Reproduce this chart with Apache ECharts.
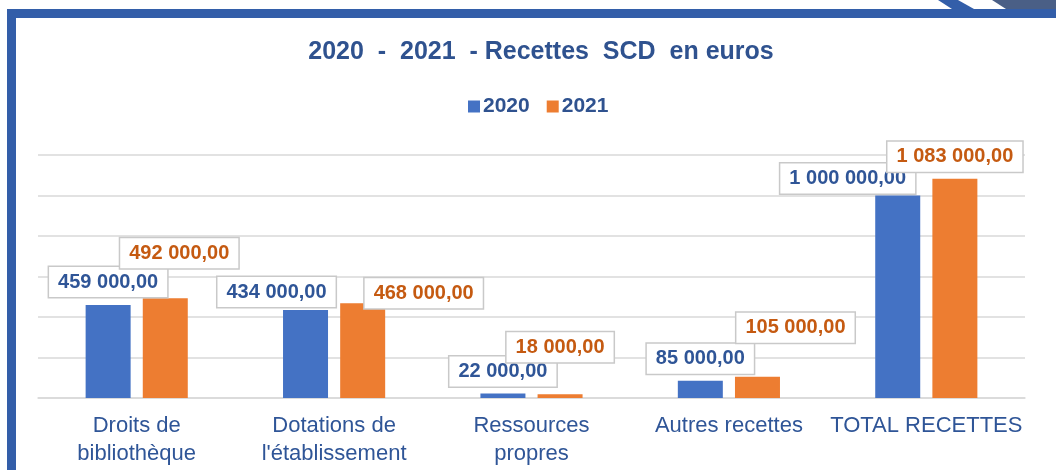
<!DOCTYPE html>
<html>
<head>
  <meta charset="UTF-8">
  <title>Recettes SCD</title>
  <script src="https://cdn.jsdelivr.net/npm/echarts@6/dist/echarts.min.js"></script>
  <style>
    html, body { margin: 0; padding: 0; background: #ffffff; }
    #chart { width: 1056px; height: 470px; }
  </style>
</head>
<body>
<div id="chart"></div>
<script>
  // donnees
  var categories = ['Droits de\nbibliothèque', 'Dotations de\nl\'établissement', 'Ressources\npropres', 'Autres recettes', 'TOTAL RECETTES'];
  var seriesNames = ['2020', '2021'];
  var values2020 = [459000, 434000, 22000, 85000, 1000000];
  var values2021 = [492000, 468000, 18000, 105000, 1083000];

  // deplacement des etiquettes (comme dans le fichier excel) [dx, hauteur au-dessus de la barre]
  var shift2020 = [[0, 8], [-29, 3], [0, 7], [0, 7], [-50, 2]];
  var shift2021 = [[14, 30], [61, -5], [0, 32], [38, 34], [0, 7]];

  var bleu = '#4472c4', orange = '#ed7d31';
  var texteBleu = '#2f5597', texteOrange = '#c55a11';

  function fmt(v) {
    var s = String(v).replace(/\B(?=(\d{3})+(?!\d))/g, ' ');
    return s + ',00';
  }

  function buildData(vals, shifts) {
    return vals.map(function (v, i) {
      return { value: v, label: { offset: [shifts[i][0], -shifts[i][1]] } };
    });
  }

  function labelStyle(col) {
    return {
      show: true,
      position: 'top',
      distance: 0,
      color: col,
      fontFamily: 'Arial, "Liberation Sans", sans-serif',
      fontSize: 20,
      fontWeight: 'bold',
      backgroundColor: '#ffffff',
      borderColor: '#c9c9c9',
      borderWidth: 1.5,
      padding: [5, 9, 5, 9],
      formatter: function (p) { return fmt(p.value); }
    };
  }

  var myChart = echarts.init(document.getElementById('chart'));

  var option = {
    backgroundColor: '#ffffff',
    animation: false,
    title: {
      text: '2020  -  2021  - Recettes  SCD  en euros',
      left: 536,
      textAlign: 'center',
      top: 35,
      textStyle: {
        color: '#2f528f',
        fontFamily: 'Arial, "Liberation Sans", sans-serif',
        fontSize: 25,
        fontWeight: 'bold'
      }
    },
    legend: {
      data: seriesNames,
      left: 463,
      top: 91,
      itemWidth: 12,
      itemHeight: 12,
      itemGap: 17,
      icon: 'rect',
      textStyle: {
        color: '#2f528f',
        fontFamily: 'Arial, "Liberation Sans", sans-serif',
        fontSize: 21,
        fontWeight: 'bold',
        padding: [0, 0, 0, -2]
      }
    },
    grid: { left: 38, right: 31, top: 155, bottom: 72, containLabel: false },
    xAxis: {
      type: 'category',
      data: categories,
      axisLine: { lineStyle: { color: '#d9d9d9', width: 1.5 } },
      axisTick: { show: false },
      axisLabel: {
        interval: 0,
        margin: 14,
        color: '#2f5597',
        fontFamily: 'Arial, "Liberation Sans", sans-serif',
        fontSize: 22,
        lineHeight: 28
      }
    },
    yAxis: {
      type: 'value',
      min: 0,
      max: 1200000,
      interval: 200000,
      axisLabel: { show: false },
      axisLine: { show: false },
      axisTick: { show: false },
      splitLine: { lineStyle: { color: '#d9d9d9', width: 1.5 } }
    },
    graphic: [
      { type: 'rect', shape: { x: 7, y: 9, width: 1049, height: 9 }, style: { fill: '#335ea9' } },
      { type: 'rect', shape: { x: 7, y: 9, width: 9, height: 461 }, style: { fill: '#335ea9' } },
      { type: 'polygon', shape: { points: [[938, 0], [958, 0], [974, 9], [952, 9]] }, style: { fill: '#335ea9' } },
      { type: 'polygon', shape: { points: [[992, 0], [1056, 0], [1056, 9], [1006, 9]] }, style: { fill: '#4a5f86' } }
    ],
    series: [
      {
        name: seriesNames[0],
        type: 'bar',
        barWidth: 45,
        barGap: '27%',
        itemStyle: { color: bleu },
        label: labelStyle(texteBleu),
        data: buildData(values2020, shift2020)
      },
      {
        name: seriesNames[1],
        type: 'bar',
        barWidth: 45,
        barGap: '27%',
        itemStyle: { color: orange },
        label: labelStyle(texteOrange),
        data: buildData(values2021, shift2021)
      }
    ]
  };

  myChart.setOption(option);
</script>
</body>
</html>
